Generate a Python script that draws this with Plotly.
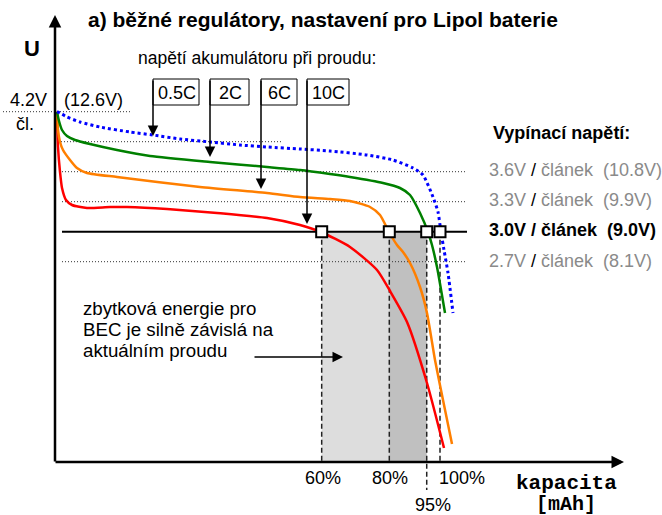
import plotly.graph_objects as go

# ------------------------- data -------------------------
# capacity in arbitrary units (100 = full capacity at 3.0 V for 0.5C), voltage per cell [V]
cap_05C = [0.52, 1.82, 3.12, 6.49, 11.69, 19.48, 25.45, 32.47, 40.26, 48.05, 55.06, 63.64,
           71.43, 81.04, 87.79, 92.99, 95.58, 98.18, 99.48, 100.26, 101.04, 102.08, 103.38]
v_05C = [4.2, 4.177, 4.147, 4.097, 4.047, 3.997, 3.967, 3.927, 3.897, 3.867, 3.847, 3.827,
         3.807, 3.767, 3.717, 3.637, 3.567, 3.347, 3.197, 2.997, 2.817, 2.587, 2.187]

cap_2C = [0.52, 1.04, 1.82, 3.12, 5.19, 9.09, 16.10, 24.68, 40.26, 55.06, 63.64, 71.43,
          76.62, 85.19, 89.61, 92.21, 94.81, 96.88, 97.92, 99.22, 101.30]
v_2C = [4.2, 4.107, 4.017, 3.957, 3.917, 3.877, 3.817, 3.757, 3.697, 3.647, 3.617, 3.577,
        3.547, 3.487, 3.437, 3.367, 3.187, 2.997, 2.867, 2.647, 2.187]

cap_6C = [0.52, 0.78, 1.30, 2.08, 3.90, 5.71, 8.31, 16.10, 37.66, 55.06, 63.64, 71.43,
          76.62, 81.82, 84.42, 86.75, 88.83, 90.39, 92.21, 94.81, 96.62, 98.70, 100.78, 103.12]
v_6C = [4.2, 4.017, 3.897, 3.817, 3.717, 3.637, 3.587, 3.547, 3.447, 3.387, 3.347, 3.327,
        3.307, 3.247, 3.167, 2.997, 2.867, 2.797, 2.687, 2.447, 2.187, 1.717, 1.317, 0.877]

cap_10C = [0.52, 0.78, 1.30, 1.82, 2.86, 4.42, 8.31, 14.29, 18.70, 29.09, 42.08, 55.06,
           63.64, 69.09, 76.62, 83.64, 87.01, 91.43, 96.62, 101.04]
v_10C = [4.2, 3.847, 3.597, 3.437, 3.317, 3.267, 3.237, 3.247, 3.247, 3.227, 3.187, 3.137,
         3.067, 2.997, 2.847, 2.617, 2.407, 2.097, 1.487, 0.837]

rate_labels = ["0.5C", "2C", "6C", "10C"]
rate_colors = ["#0000ff", "#008000", "#ff7f00", "#ff0000"]

cutoff_volts = [3.6, 3.3, 3.0, 2.7]
cutoff_pack = ["10.8V", "9.9V", "9.0V", "8.1V"]
full_volt = 4.2
full_pack = "12.6V"
extra_ref_volt = 3.9

cross_cap = [69.27, 86.83, 96.55, 100.0]     # where curves hit 3.0 V
cross_labels = ["60%", "80%", "95%", "100%"]

# ------------------------- geometry helpers (pixel -> data) -------------------------
W, H = 662, 515
X0, SX = 55.0, 3.85        # pixel of capacity 0, pixels per unit
Y0, SY = 111.7, 100.0      # pixel of 4.2 V, pixels per volt


def X(px):
    return (px - X0) / SX


def Y(py):
    return full_volt - (py - Y0) / SY


def PX(x):
    return X0 + x * SX


FONT = "Liberation Sans, Arial, sans-serif"
MONO = "Liberation Mono, Courier New, monospace"
GRAY = "#8a8a8a"

fig = go.Figure()

shapes = []
annotations = []

# shaded residual energy areas
shapes.append(dict(type="rect", xref="x", yref="y", x0=cross_cap[0], x1=cross_cap[1],
                   y0=Y(462), y1=cutoff_volts[2], fillcolor="#dddddd", line=dict(width=0),
                   layer="below"))
shapes.append(dict(type="rect", xref="x", yref="y", x0=cross_cap[1], x1=cross_cap[2],
                   y0=Y(462), y1=cutoff_volts[2], fillcolor="#c0c0c0", line=dict(width=0),
                   layer="below"))

# dashed verticals
for i, c in enumerate(cross_cap):
    ybot = Y(490) if cross_labels[i] == "95%" else Y(462)
    shapes.append(dict(type="line", xref="x", yref="y", x0=c, x1=c, y0=cutoff_volts[2], y1=ybot,
                       line=dict(color="#222222", width=1.5, dash="5px,3px"), layer="below"))

# dotted reference lines
dot = dict(color="#333333", width=1, dash="1px,2px")
shapes.append(dict(type="line", xref="x", yref="y", x0=X(3), x1=X(132), y0=full_volt, y1=full_volt,
                   line=dot, layer="below"))
shapes.append(dict(type="line", xref="x", yref="y", x0=X(61), x1=X(283), y0=extra_ref_volt,
                   y1=extra_ref_volt, line=dot, layer="below"))
for v in cutoff_volts:
    if v == 3.0:
        shapes.append(dict(type="line", xref="x", yref="y", x0=X(62), x1=X(467), y0=v, y1=v,
                           line=dict(color="black", width=2), layer="below"))
    else:
        shapes.append(dict(type="line", xref="x", yref="y", x0=X(62), x1=X(466), y0=v, y1=v,
                           line=dot, layer="below"))

# curves
for cap, v, col, lab in [(cap_10C, v_10C, rate_colors[3], rate_labels[3]),
                         (cap_6C, v_6C, rate_colors[2], rate_labels[2]),
                         (cap_2C, v_2C, rate_colors[1], rate_labels[1]),
                         (cap_05C, v_05C, rate_colors[0], rate_labels[0])]:
    fig.add_trace(go.Scatter(x=cap, y=v, mode="lines", name=lab,
                             line=dict(color=col, width=3 if lab == "0.5C" else 2.5,
                                       dash="dot" if lab == "0.5C" else "solid",
                                       shape="spline", smoothing=0.6),
                             hoverinfo="skip"))

# cutoff markers
fig.add_trace(go.Scatter(x=cross_cap, y=[cutoff_volts[2]] * len(cross_cap), mode="markers",
                         marker=dict(symbol="square", size=11, color="white",
                                     line=dict(color="black", width=2)),
                         hoverinfo="skip"))

# axes with arrows
annotations.append(dict(x=0, y=Y(15), ax=0, ay=Y(463), xref="x", yref="y", axref="x", ayref="y",
                        text="", showarrow=True, arrowhead=2, arrowwidth=2.5, arrowsize=1.0,
                        arrowcolor="black"))
annotations.append(dict(x=X(624), y=Y(462), ax=X(54), ay=Y(462), xref="x", yref="y", axref="x",
                        ayref="y", text="", showarrow=True, arrowhead=2, arrowwidth=2.5,
                        arrowsize=1.0, arrowcolor="black"))


def txt(text, px, py, size=18, anchor="left", color="black", family=FONT, bold=False):
    if bold:
        text = "<b>" + text + "</b>"
    annotations.append(dict(x=X(px), y=Y(py), xref="x", yref="y", text=text, showarrow=False,
                            xanchor=anchor, yanchor="middle",
                            font=dict(size=size, color=color, family=family)))


txt("a) běžné regulátory, nastavení pro Lipol baterie", 86, 19, size=21, bold=True)
txt("U", 32, 48, size=22, anchor="center", bold=True)
txt("napětí akumulátoru při proudu:", 136, 58, size=17.5)

# callout boxes with arrows
box_left = [153, 210, 261, 307]
box_right = [199, 249, 297, 349]
tips = [136, 157, 189, 224]
for lab, bl, br, tp in zip(rate_labels, box_left, box_right, tips):
    annotations.append(dict(x=X(bl), y=Y(tp), ax=X(bl), ay=Y(79), xref="x", yref="y",
                            axref="x", ayref="y", text="", showarrow=True, arrowhead=2,
                            arrowwidth=1.5, arrowsize=1.4, arrowcolor="black"))
    shapes.append(dict(type="rect", xref="x", yref="y", x0=X(bl), x1=X(br), y0=Y(105), y1=Y(79),
                       fillcolor="white", line=dict(color="black", width=1), layer="above"))
    txt(lab, (bl + br) / 2 + 0.5, 93, size=18, anchor="center")

# left voltage labels
txt("%.1fV" % full_volt, 8, 100, size=18)
txt("(%s)" % full_pack, 62, 100, size=18)
txt("čl.", 14, 124, size=18)

# right cutoff labels
txt("Vypínací napětí:", 491, 133, size=18, bold=True)
for v, pk, py in zip(cutoff_volts, cutoff_pack, [170, 200, 230, 261]):
    if v == 3.0:
        t = "<b>%.1fV / článek\u00a0\u00a0(%s)</b>" % (v, pk)
        txt(t, 487, py, size=18)
    else:
        t = ("<span style='color:%s'>%.1fV</span> / <span style='color:%s'>článek\u00a0\u00a0(%s)</span>"
             % (GRAY, v, GRAY, pk))
        txt(t, 487, py, size=18)

# residual energy note
txt("zbytková energie pro", 81, 308, size=18.7)
txt("BEC je silně závislá na", 81, 329, size=18.7)
txt("aktuálním proudu", 81, 350, size=18.7)
annotations.append(dict(x=X(343), y=Y(357), ax=X(253), ay=Y(357), xref="x", yref="y",
                        axref="x", ayref="y", text="", showarrow=True, arrowhead=2,
                        arrowwidth=1.5, arrowsize=1.4, arrowcolor="black"))

# percent labels
for c, lab in zip(cross_cap, cross_labels):
    if lab == "95%":
        txt(lab, PX(c) + 6, 505, size=18, anchor="center")
    elif lab == "100%":
        txt(lab, PX(c) - 3, 478, size=18, anchor="left")
    else:
        txt(lab, PX(c) + 1, 478, size=18, anchor="center")

txt("<b>kapacita</b>", 566, 483, size=21, anchor="center", family=MONO)
txt("<b>[mAh]</b>", 566, 504, size=20, anchor="center", family=MONO)

fig.update_layout(
    width=W, height=H, margin=dict(l=0, r=0, t=0, b=0),
    paper_bgcolor="white", plot_bgcolor="white", showlegend=False,
    xaxis=dict(range=[X(0), X(W)], visible=False, fixedrange=True),
    yaxis=dict(range=[Y(H), Y(0)], visible=False, fixedrange=True),
    shapes=shapes, annotations=annotations,
)

fig.write_html("out.html", config={"displayModeBar": False},
               post_script="document.body.style.margin='0';")
